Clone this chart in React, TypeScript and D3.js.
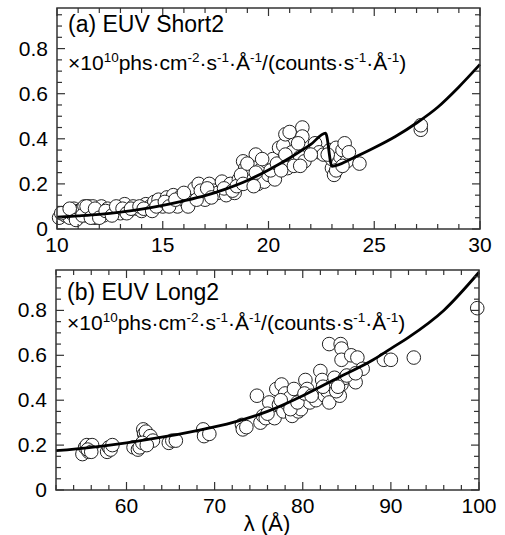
import React, { useRef, useEffect } from 'react';
import * as d3 from 'd3';

// panel (a) EUV Short2
const shortFitX = [10, 11, 12, 13, 14, 15, 16, 17, 18, 19, 20, 21, 22, 22.7, 23.0, 24, 25, 26, 27, 28, 29, 30];
const shortFitY = [0.052, 0.058, 0.065, 0.075, 0.088, 0.105, 0.125, 0.148, 0.178, 0.215, 0.262, 0.315, 0.375, 0.425, 0.278, 0.315, 0.36, 0.41, 0.47, 0.54, 0.63, 0.73];

const shortPtsX = [10.1, 10.3, 10.4, 10.5, 10.6, 10.7, 10.8, 10.9, 11.0, 11.0, 11.1, 11.2, 11.3, 11.4, 11.5, 11.5, 11.6, 11.7, 11.8, 11.9, 12.0, 12.1, 12.2, 12.4, 12.5, 12.7, 12.9, 13.0, 13.2, 13.4, 13.6, 13.8, 14.0, 14.2, 14.4, 14.6, 14.8, 15.0, 15.2, 15.4, 15.5, 15.7, 15.9, 16.1, 16.3, 16.5, 16.7, 16.9, 17.0, 17.2, 17.4, 17.6, 17.8, 18.0, 18.2, 18.4, 18.6, 18.8, 18.9, 19.0, 19.1, 19.2, 19.4, 19.5, 19.6, 19.8, 19.9, 20.0, 20.2, 20.3, 20.5, 20.7, 20.8, 20.9, 21.0, 21.1, 21.3, 21.5, 21.6, 21.6, 21.7, 22.2, 22.4, 22.6, 22.9, 23.0, 23.0, 23.1, 23.2, 23.3, 23.4, 23.5, 23.6, 23.7, 23.8, 24.3, 27.2, 27.2,
  10.2, 10.6, 10.9, 11.2, 11.4, 11.6, 11.8, 12.0, 12.3, 12.6, 12.8, 13.1, 13.3, 13.5, 13.9, 14.1, 14.5, 14.7, 15.1, 15.3, 15.6, 16.0, 16.2, 16.6, 16.8, 17.1, 17.3, 17.9, 18.3, 18.5, 18.7, 18.8, 19.0, 19.3, 19.4, 19.7, 20.1, 20.4, 20.6, 20.8, 21.2, 21.4, 21.5, 22.0, 22.8, 23.2, 23.5];
const shortPtsY = [0.05, 0.07, 0.06, 0.08, 0.05, 0.07, 0.09, 0.06, 0.08, 0.05, 0.07, 0.09, 0.1, 0.06, 0.08, 0.1, 0.07, 0.1, 0.05, 0.08, 0.07, 0.1, 0.06, 0.09, 0.07, 0.08, 0.09, 0.07, 0.11, 0.08, 0.1, 0.09, 0.08, 0.11, 0.1, 0.12, 0.13, 0.1, 0.14, 0.12, 0.15, 0.1, 0.15, 0.12, 0.14, 0.18, 0.2, 0.15, 0.13, 0.2, 0.17, 0.16, 0.21, 0.15, 0.2, 0.16, 0.22, 0.3, 0.27, 0.24, 0.21, 0.29, 0.33, 0.2, 0.26, 0.21, 0.3, 0.24, 0.31, 0.22, 0.36, 0.37, 0.42, 0.27, 0.43, 0.34, 0.3, 0.32, 0.45, 0.41, 0.3, 0.38, 0.34, 0.33, 0.35, 0.27, 0.31, 0.24, 0.36, 0.29, 0.32, 0.35, 0.38, 0.3, 0.34, 0.29, 0.44, 0.46,
  0.07, 0.09, 0.04, 0.06, 0.1, 0.05, 0.09, 0.05, 0.08, 0.06, 0.1, 0.09, 0.07, 0.09, 0.1, 0.09, 0.08, 0.1, 0.12, 0.1, 0.13, 0.16, 0.1, 0.13, 0.17, 0.18, 0.14, 0.18, 0.17, 0.19, 0.24, 0.2, 0.29, 0.19, 0.25, 0.31, 0.26, 0.29, 0.26, 0.33, 0.28, 0.38, 0.28, 0.33, 0.33, 0.26, 0.28];

// panel (b) EUV Long2
const longFitX = [52, 56, 60, 64, 68, 72, 76, 80, 84, 88, 90, 92, 96, 100];
const longFitY = [0.175, 0.19, 0.21, 0.235, 0.265, 0.3, 0.35, 0.42, 0.5, 0.58, 0.63, 0.68, 0.8, 0.97];

const longPtsX = [55.0, 55.3, 55.5, 55.7, 55.9, 56.1, 57.8, 58.0, 58.2, 58.4, 60.8, 61.3, 61.5, 61.9, 62.0, 62.1, 62.2, 62.5, 62.7, 63.0, 64.8, 65.2, 65.6, 68.7, 68.8, 69.4, 73.1, 73.2, 73.6, 74.8, 75.2, 75.5, 75.8, 76.2, 76.8, 77.0, 77.3, 77.6, 77.8, 78.0, 78.3, 78.5, 78.8, 79.0, 79.2, 79.5, 79.8, 80.0, 80.3, 80.5, 80.8, 81.5, 82.0, 82.2, 82.5, 82.8, 83.0, 83.0, 83.3, 83.6, 84.2, 84.3, 84.4, 84.4, 84.4, 84.8, 85.5, 86.0, 86.2, 86.8, 89.2, 90.0, 92.6, 99.8,
  55.6, 56.0, 61.8, 62.3, 76.0, 77.5, 78.6, 79.4, 80.2, 81.0, 82.3, 83.8, 84.0, 85.0, 86.0];
const longPtsY = [0.16, 0.19, 0.2, 0.17, 0.19, 0.2, 0.17, 0.19, 0.18, 0.2, 0.19, 0.18, 0.19, 0.27, 0.25, 0.23, 0.26, 0.22, 0.24, 0.22, 0.21, 0.22, 0.22, 0.27, 0.24, 0.25, 0.29, 0.27, 0.28, 0.42, 0.3, 0.33, 0.32, 0.39, 0.32, 0.45, 0.38, 0.47, 0.35, 0.43, 0.38, 0.41, 0.33, 0.45, 0.37, 0.35, 0.36, 0.41, 0.49, 0.45, 0.39, 0.4, 0.53, 0.49, 0.42, 0.44, 0.65, 0.39, 0.47, 0.5, 0.42, 0.65, 0.63, 0.58, 0.47, 0.5, 0.6, 0.48, 0.59, 0.54, 0.58, 0.58, 0.59, 0.81,
  0.18, 0.17, 0.21, 0.2, 0.34, 0.4, 0.36, 0.39, 0.43, 0.42, 0.46, 0.44, 0.46, 0.51, 0.52];

const yTickVals = [0, 0.2, 0.4, 0.6, 0.8];

function App() {
  const svgRef = useRef();

  useEffect(() => {
    const svg = d3.select(svgRef.current);
    svg.selectAll("*").remove();

    const width = 505;
    const height = 535;
    svg.attr("width", width).attr("height", height);

    const font = "'Liberation Sans', Arial, sans-serif";

    const drawPanel = (opts) => {
      const { left, right, top, bottom, xDomain, yMax, xMajor, xMinor, fitX, fitY, ptsX, ptsY, label, labelDy, unitDy } = opts;
      const g = svg.append("g");

      const x = d3.scaleLinear().domain(xDomain).range([left, right]);
      const y = d3.scaleLinear().domain([0, yMax]).range([bottom, top]);

      // points
      g.selectAll("circle")
        .data(ptsX.map((v, i) => [v, ptsY[i]]))
        .enter()
        .append("circle")
        .attr("cx", d => x(d[0]))
        .attr("cy", d => y(d[1]))
        .attr("r", 6.8)
        .attr("fill", "white")
        .attr("stroke", "#222")
        .attr("stroke-width", 1);

      // fit curve
      const line = d3.line()
        .x(d => x(d[0]))
        .y(d => y(d[1]))
        .curve(d3.curveMonotoneX);
      g.append("path")
        .datum(fitX.map((v, i) => [v, fitY[i]]))
        .attr("d", line)
        .attr("fill", "none")
        .attr("stroke", "#000")
        .attr("stroke-width", 2.8);

      // inward ticks on all sides
      const xMinorTicks = d3.range(xDomain[0], xDomain[1] + 0.001, xMinor);
      const xMajorTicks = d3.range(Math.ceil(xDomain[0] / xMajor) * xMajor, xDomain[1] + 0.001, xMajor);
      const yMinorTicks = d3.range(0, yMax + 0.001, 0.05);

      const tickG = g.append("g").attr("stroke", "#333").attr("stroke-width", 1.2);
      xMinorTicks.forEach(t => {
        const len = xMajorTicks.some(m => Math.abs(m - t) < 1e-6) ? 8 : 5;
        tickG.append("line").attr("x1", x(t)).attr("x2", x(t)).attr("y1", bottom).attr("y2", bottom - len);
        tickG.append("line").attr("x1", x(t)).attr("x2", x(t)).attr("y1", top).attr("y2", top + len);
      });
      yMinorTicks.forEach(t => {
        const len = yTickVals.some(m => Math.abs(m - t) < 1e-6) ? 8 : 5;
        tickG.append("line").attr("x1", left).attr("x2", left + len).attr("y1", y(t)).attr("y2", y(t));
        tickG.append("line").attr("x1", right).attr("x2", right - len).attr("y1", y(t)).attr("y2", y(t));
      });

      // frame
      g.append("rect")
        .attr("x", left).attr("y", top)
        .attr("width", right - left).attr("height", bottom - top)
        .attr("fill", "none")
        .attr("stroke", "#333")
        .attr("stroke-width", 1.5);

      // tick labels
      g.selectAll(".xl")
        .data(xMajorTicks)
        .enter()
        .append("text")
        .attr("x", d => x(d))
        .attr("y", bottom + 23)
        .attr("text-anchor", "middle")
        .style("font-family", font)
        .style("font-size", "21px")
        .text(d => d);

      g.selectAll(".yl")
        .data(yTickVals)
        .enter()
        .append("text")
        .attr("x", left - 9)
        .attr("y", d => y(d) + 7)
        .attr("text-anchor", "end")
        .style("font-family", font)
        .style("font-size", "21px")
        .text(d => d === 0 ? "0" : d3.format(".1f")(d));

      // panel label
      g.append("text")
        .attr("x", left + 11)
        .attr("y", top + labelDy)
        .style("font-family", font)
        .style("font-size", "23px")
        .text(label);

      const unit = g.append("text")
        .attr("x", left + 11)
        .attr("y", top + unitDy)
        .style("font-family", font)
        .style("font-size", "21px");
      const parts = [
        ["×10", 0], ["10", 1], ["phs·cm", 0], ["-2", 1], ["·s", 0], ["-1", 1], ["·Å", 0], ["-1", 1],
        ["/(counts·s", 0], ["-1", 1], ["·Å", 0], ["-1", 1], [")", 0]
      ];
      let up = false;
      parts.forEach(([txt, sup]) => {
        const ts = unit.append("tspan").text(txt);
        if (sup && !up) { ts.attr("dy", -8).style("font-size", "13.5px"); up = true; }
        else if (sup) { ts.style("font-size", "13.5px"); }
        else if (up) { ts.attr("dy", 8); up = false; }
      });
    };

    drawPanel({
      left: 57, right: 480, top: 8, bottom: 229,
      xDomain: [10, 30], yMax: 0.98, xMajor: 5, xMinor: 1,
      fitX: shortFitX, fitY: shortFitY, ptsX: shortPtsX, ptsY: shortPtsY,
      label: "(a) EUV Short2", labelDy: 24, unitDy: 62
    });

    drawPanel({
      left: 56, right: 479, top: 270, bottom: 490,
      xDomain: [52, 100], yMax: 0.98, xMajor: 10, xMinor: 2,
      fitX: longFitX, fitY: longFitY, ptsX: longPtsX, ptsY: longPtsY,
      label: "(b) EUV Long2", labelDy: 30, unitDy: 60
    });

    svg.append("text")
      .attr("x", 267)
      .attr("y", 531)
      .attr("text-anchor", "middle")
      .style("font-family", "'Liberation Sans', Arial, sans-serif")
      .style("font-size", "22px")
      .text("λ (Å)");
  }, []);

  return <svg ref={svgRef} style={{ position: "absolute", left: 0, top: 0 }}></svg>;
}

export default App;
